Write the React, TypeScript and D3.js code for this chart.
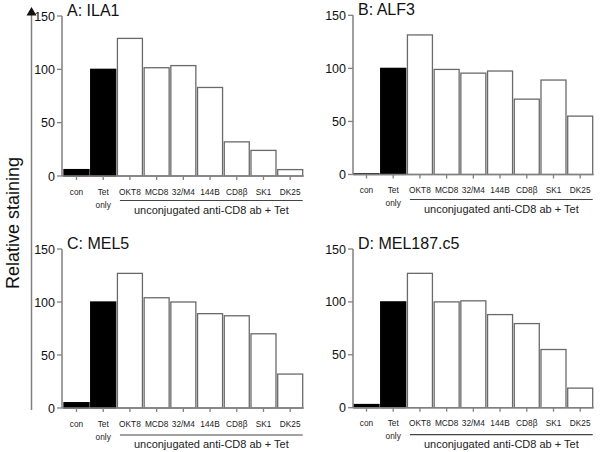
import React from "react";
import * as d3 from "d3";

const categories = ["con", "Tet", "OKT8", "MCD8", "32/M4", "144B", "CD8β", "SK1", "DK25"];
const secondLine = ["", "only", "", "", "", "", "", "", ""];
const filled = [true, true, false, false, false, false, false, false, false];

const valuesA = [6, 100, 129, 101.5, 103.5, 83, 32, 24, 6];
const valuesB = [0.6, 100, 131.5, 99, 95.5, 97.5, 71, 89, 55];
const valuesC = [5, 100, 127, 104, 100, 89, 87, 70, 32];
const valuesD = [3, 100, 127, 100, 101, 88, 79.5, 55, 18.5];

const panelTitles = ["A: ILA1", "B: ALF3", "C: MEL5", "D: MEL187.c5"];
const panelValues = [valuesA, valuesB, valuesC, valuesD];
const yTicks = [0, 50, 100, 150];
const groupLabel = "unconjugated anti-CD8 ab + Tet";
const yTitle = "Relative staining";

// layout (not data)
const layouts = [
  { axisX: 62, barStart: 64, y0: 176, yTop: 16, lineOff: 24.5 },
  { axisX: 353, barStart: 354, y0: 174.5, yTop: 15.3, lineOff: 25 },
  { axisX: 62, barStart: 64, y0: 408, yTop: 249, lineOff: 27 },
  { axisX: 353, barStart: 354, y0: 407.7, yTop: 249, lineOff: 27 },
];

const FONT = "'Liberation Sans', Arial, Helvetica, sans-serif";
const AXIS = "#808080";
const BARSTROKE = "#6a6a6a";
const TEXT = "#222";

function Panel({ idx }: { idx: number }) {
  const L = layouts[idx];
  const values = panelValues[idx];
  const x = d3
    .scaleBand<string>()
    .domain(categories)
    .range([L.barStart, L.barStart + 238.7])
    .paddingInner(0.064)
    .paddingOuter(0);
  const y = d3.scaleLinear().domain([0, 150]).range([L.y0, L.yTop]);
  const xEnd = (x("DK25") as number) + x.bandwidth();
  const lineStart = (x("OKT8") as number) + 2.5;
  return (
    <g>
      <text x={L.axisX + 5} y={L.yTop - 0.5} fontSize={16} fontFamily={FONT} fill="#111">
        {panelTitles[idx]}
      </text>
      {categories.map((c, i) => {
        const bx = x(c) as number;
        const by = y(values[i]);
        return (
          <rect
            key={c}
            x={bx}
            y={by}
            width={x.bandwidth()}
            height={L.y0 - by}
            fill={filled[i] ? "#000" : "#fff"}
            stroke={filled[i] ? "#000" : BARSTROKE}
            strokeWidth={1.3}
          />
        );
      })}
      {/* y axis */}
      <line x1={L.axisX} x2={L.axisX} y1={L.y0} y2={L.yTop} stroke={AXIS} strokeWidth={1.5} />
      {yTicks.map((t) => (
        <g key={t}>
          <line x1={L.axisX - 5} x2={L.axisX} y1={y(t)} y2={y(t)} stroke={AXIS} strokeWidth={1.3} />
          <text
            x={L.axisX - 7}
            y={y(t)}
            dy="0.36em"
            textAnchor="end"
            fontSize={12.5}
            fontFamily={FONT}
            fill="#111"
          >
            {t}
          </text>
        </g>
      ))}
      {/* x axis */}
      <line x1={L.axisX} x2={xEnd + 1} y1={L.y0} y2={L.y0} stroke={AXIS} strokeWidth={1.5} />
      {categories.map((c, i) => {
        const cx = (x(c) as number) + x.bandwidth() / 2;
        return (
          <g key={c}>
            <line x1={cx} x2={cx} y1={L.y0} y2={L.y0 + 4} stroke={AXIS} strokeWidth={1.3} />
            <text x={cx} y={L.y0 + 18.5} textAnchor="middle" fontSize={8.3} fontFamily={FONT} fill={TEXT}>
              {c}
            </text>
            {secondLine[i] && (
              <text x={cx} y={L.y0 + 31.5} textAnchor="middle" fontSize={8.3} fontFamily={FONT} fill={TEXT}>
                {secondLine[i]}
              </text>
            )}
          </g>
        );
      })}
      <line x1={lineStart} x2={xEnd} y1={L.y0 + L.lineOff} y2={L.y0 + L.lineOff} stroke="#444" strokeWidth={1.2} />
      <text
        x={(lineStart + xEnd) / 2}
        y={L.y0 + L.lineOff + 13}
        textAnchor="middle"
        fontSize={11}
        fontFamily={FONT}
        fill={TEXT}
      >
        {groupLabel}
      </text>
    </g>
  );
}

export default function App() {
  return (
    <svg
      width={600}
      height={452}
      style={{ position: "absolute", left: 0, top: 0, background: "#fff" }}
    >
      <rect width={600} height={452} fill="#fff" />
      <line x1={31.5} x2={31.5} y1={14} y2={410} stroke={AXIS} strokeWidth={1.5} />
      <path d="M31.5,7 L36.5,15.5 L26.5,15.5 Z" fill="#111" />
      <text
        transform="translate(19,223) rotate(-90)"
        textAnchor="middle"
        fontSize={18}
        fontFamily={FONT}
        fill="#111"
      >
        {yTitle}
      </text>
      {[0, 1, 2, 3].map((i) => (
        <Panel key={i} idx={i} />
      ))}
    </svg>
  );
}
